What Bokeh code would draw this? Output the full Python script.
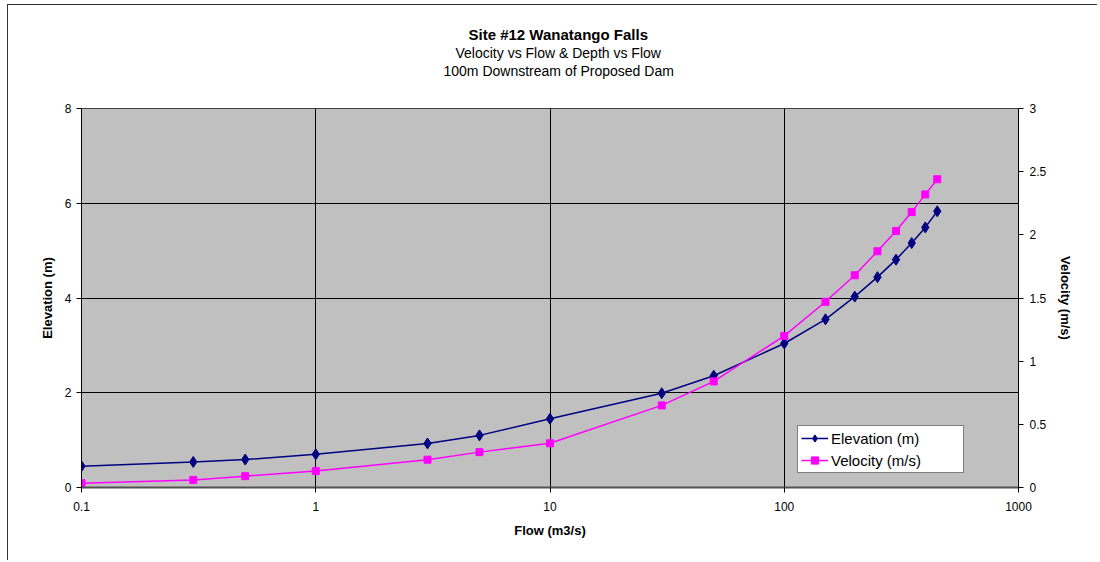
from bokeh.plotting import figure
from bokeh.models import (Range1d, LinearAxis, FixedTicker, CustomJSTickFormatter,
                          Title, Legend, LegendItem)
from bokeh.embed import file_html
from bokeh.resources import INLINE

# ---- data ----
flow = [0.1, 0.3, 0.5, 1, 3, 5, 10, 30, 50, 100, 150, 200, 250, 300, 350, 400, 450]
elevation = [0.45, 0.54, 0.59, 0.70, 0.93, 1.10, 1.45, 1.99, 2.36, 3.04,
             3.55, 4.03, 4.44, 4.81, 5.16, 5.49, 5.83]
velocity = [0.034, 0.06, 0.09, 0.13, 0.22, 0.28, 0.35, 0.65, 0.84, 1.20,
            1.47, 1.68, 1.87, 2.03, 2.18, 2.32, 2.44]
x_ticks = [0.1, 1, 10, 100, 1000]
elev_ticks = [0, 2, 4, 6, 8]
vel_ticks = [0, 0.5, 1, 1.5, 2, 2.5, 3]
titles = ["Site #12 Wanatango Falls", "Velocity vs Flow & Depth vs Flow",
          "100m Downstream of Proposed Dam"]

FONT = "Liberation Sans"
fmt = CustomJSTickFormatter(code="return tick.toString()")

p = figure(width=1090, height=556, x_axis_type="log",
           x_range=Range1d(0.1, 1000), y_range=Range1d(0, 8),
           output_backend="svg", toolbar_location=None, title=None,
           min_border_left=73, min_border_right=80, min_border_top=103,
           min_border_bottom=74)
p.styles = {"border-left": "1px solid #333333", "border-top": "1px solid #333333",
            "margin-left": "7px", "margin-top": "4px"}
p.background_fill_color = "#C0C0C0"
p.border_fill_color = "white"
p.outline_line_color = "#404040"
p.outline_line_width = 1

# title block: a spacer nearest the frame, then the three lines
p.add_layout(Title(text=" ", text_font_size="1px", standoff=27), "above")
title_specs = [(titles[2], "14px", "normal", 362),
               (titles[1], "14px", "normal", 374),
               (titles[0], "15px", "bold", 387)]
for txt, fs, st, off in title_specs:
    p.add_layout(Title(text=txt, align="left", offset=off, text_font=FONT,
                       text_font_size=fs, text_font_style=st, text_color="black",
                       standoff=0), "above")

p.extra_y_ranges = {"vel": Range1d(0, 3)}

# x axis
xa = p.xaxis[0]
xa.ticker = FixedTicker(ticks=x_ticks)
xa.formatter = fmt
xa.axis_label = "Flow (m3/s)"
# left axis
ya = p.yaxis[0]
ya.ticker = FixedTicker(ticks=elev_ticks)
ya.formatter = fmt
ya.axis_label = "Elevation (m)"
# right axis
ra = LinearAxis(y_range_name="vel", ticker=FixedTicker(ticks=vel_ticks),
                formatter=fmt, axis_label="Velocity (m/s)")
p.add_layout(ra, "right")

for ax in [xa, ya, ra]:
    ax.major_label_text_font = FONT
    ax.major_label_text_font_size = "12px"
    ax.major_label_text_color = "black"
    ax.axis_label_text_font = FONT
    ax.axis_label_text_font_size = "13px"
    ax.axis_label_text_font_style = "bold"
    ax.axis_label_text_color = "black"
    ax.major_tick_in = 0
    ax.major_tick_out = 5
    ax.minor_tick_in = 0
    ax.minor_tick_out = 0
    ax.major_tick_line_color = "black"
    ax.axis_line_color = "black"
xa.axis_line_color = "#505050"
xa.axis_line_width = 2
xa.major_label_standoff = 9
xa.axis_label_standoff = 9
ya.major_label_standoff = 5
ya.axis_label_standoff = 7
ra.major_label_standoff = 6
ra.axis_label_standoff = 9

p.xgrid.ticker = FixedTicker(ticks=x_ticks)
p.ygrid.ticker = FixedTicker(ticks=elev_ticks)
for g in [p.xgrid[0], p.ygrid[0]]:
    g.grid_line_color = "black"
    g.grid_line_width = 1
    g.minor_grid_line_color = None

NAVY = "#000080"
MAG = "#FF00FF"
le = p.line(flow, elevation, line_color=NAVY, line_width=1.5)
se = p.scatter(flow, elevation, marker="diamond", size=11, fill_color=NAVY,
               line_color=NAVY)
lv = p.line(flow, velocity, line_color=MAG, line_width=1.5, y_range_name="vel")
sv = p.scatter(flow, velocity, marker="square", size=7, fill_color=MAG,
               line_color=MAG, y_range_name="vel")

legend = Legend(items=[LegendItem(label="Elevation (m)", renderers=[le, se]),
                       LegendItem(label="Velocity (m/s)", renderers=[lv, sv])],
                location=(716, 14), margin=0, padding=3, spacing=4,
                glyph_width=27, glyph_height=18, label_height=18, label_width=129,
                label_standoff=3, label_text_font=FONT, label_text_font_size="15px",
                label_text_color="black", border_line_color="black",
                border_line_width=1, background_fill_color="white",
                background_fill_alpha=1)
p.add_layout(legend)

open("out.html", "w").write(file_html(p, INLINE))
